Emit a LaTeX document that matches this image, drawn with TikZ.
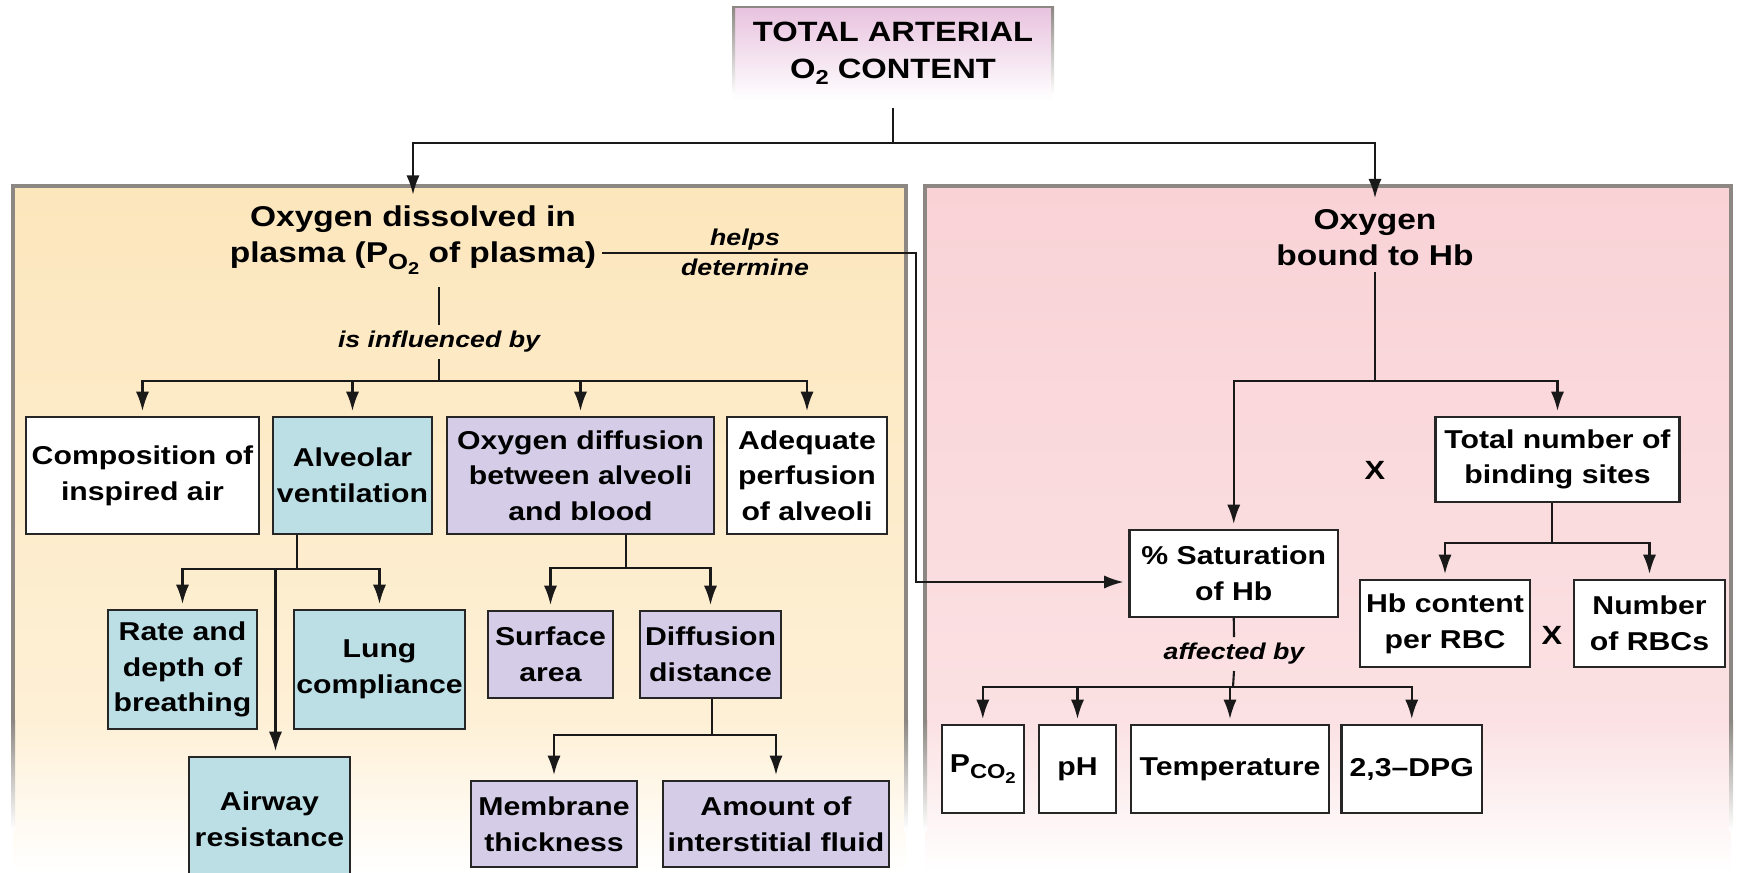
\documentclass[tikz,border=0pt]{standalone}
\usepackage{fontspec}
\setmainfont{Liberation Sans}[FakeStretch=1.17]
\usepackage{tikz}
\usetikzlibrary{arrows.meta}

\definecolor{pchtop}{HTML}{FCE6BC}
\definecolor{pchmid}{HTML}{FEF0D6}
\definecolor{pnktop}{HTML}{F9D2D6}
\definecolor{pnkmid}{HTML}{FBE1E3}
\definecolor{ttltop}{HTML}{E8C2DE}
\definecolor{edgegray}{HTML}{8C8782}
\definecolor{alvblue}{HTML}{BCDFE6}
\definecolor{difvio}{HTML}{D5CDE8}

% subscripts as the figure sets them (P with O, 2 lower still)
\newcommand{\psub}[3]{#1\raisebox{-0.45ex}{\fontsize{#3}{#3}\selectfont #2\raisebox{-0.4ex}{\fontsize{0.78\dimexpr#3pt\relax}{1pt}\selectfont 2}}}

\tikzset{
  cellbox/.style={draw=black!85, line width=1.2pt, inner sep=1pt, align=center,
    font=\fontsize{14.7}{20.3}\selectfont\bfseries},
  plainbox/.style={cellbox, fill=white},
  alvbox/.style={cellbox, fill=alvblue},
  difbox/.style={cellbox, fill=difvio},
  head/.style={align=center, font=\fontsize{16.3}{20.5}\selectfont\bfseries},
  lbl/.style={align=center, inner sep=0.12cm,
    font=\fontsize{13}{17}\selectfont\bfseries\itshape},
  conn/.style={draw=black!90, line width=1.2pt},
  arr/.style={conn, -{Latex[length=11pt,width=7.5pt]}, shorten >=0.1cm},
}

\begin{document}
\begin{tikzpicture}[x=0.02cm, y=-0.02cm]
  \useasboundingbox (0,0) rectangle (1737,872);

  % the two panels
  \shade[top color=pchtop, bottom color=pchmid] (13,186) rectangle (906,720);
  \shade[top color=pchmid, bottom color=white] (13,720) rectangle (906,872);
  \shade[top color=pnktop, bottom color=pnkmid] (925,186) rectangle (1731,720);
  \shade[top color=pnkmid, bottom color=white] (925,720) rectangle (1731,872);
  \draw[edgegray, line width=2.3pt] (11,186) -- (908,186);
  \draw[edgegray, line width=2.3pt] (923,186) -- (1733,186);
  \draw[edgegray, line width=2.3pt] (13,186) -- (13,720);
  \draw[edgegray, line width=2.3pt] (906,186) -- (906,720);
  \draw[edgegray, line width=2.3pt] (925,186) -- (925,720);
  \draw[edgegray, line width=2.3pt] (1731,186) -- (1731,720);
  \shade[top color=edgegray, bottom color=white] (11,720) rectangle (15,830);
  \shade[top color=edgegray, bottom color=white] (904,720) rectangle (908,830);
  \shade[top color=edgegray, bottom color=white] (923,720) rectangle (927,830);
  \shade[top color=edgegray, bottom color=white] (1729,720) rectangle (1733,830);

  % top box
  \node[minimum width=6.4cm, minimum height=1.86cm, top color=ttltop, bottom color=white,
    align=center, font=\fontsize{15.9}{21}\selectfont\bfseries] (title) at (893,53.5)
    {TOTAL ARTERIAL\\O\raisebox{-0.4ex}{\fontsize{11.5}{12}\selectfont 2} CONTENT};
  \draw[edgegray, line width=1.5pt] (733,7) -- (1053,7);
  \shade[top color=edgegray, bottom color=white] (732,6) rectangle (735,95);
  \shade[top color=edgegray, bottom color=white] (1051,6) rectangle (1054,95);

  % left side
  \node[head] (oxpl) at (413,240) {Oxygen dissolved in\\plasma (\psub{P}{O}{12.5} of plasma)};
  \node[lbl] (helps) at (745,252) {helps\\determine};
  \node[lbl] (infl) at (439,342) {is influenced by};

  \node[plainbox, minimum width=4.66cm, minimum height=2.34cm] (comp) at (142.5,475.5) {Composition of\\inspired air};
  \node[alvbox, minimum width=3.18cm, minimum height=2.34cm] (alv) at (352.5,475.5) {Alveolar\\ventilation};
  \node[difbox, minimum width=5.34cm, minimum height=2.34cm] (odiff) at (580.5,475.5) {Oxygen diffusion\\between alveoli\\and blood};
  \node[plainbox, minimum width=3.2cm, minimum height=2.34cm] (perf) at (807,475.5) {Adequate\\perfusion\\of alveoli};

  \node[alvbox, minimum width=2.98cm, minimum height=2.38cm] (rate) at (182.5,669.5) {Rate and\\depth of\\breathing};
  \node[alvbox, minimum width=3.42cm, minimum height=2.38cm] (lung) at (379.5,669.5) {Lung\\compliance};
  \node[alvbox, minimum width=3.22cm, minimum height=2.48cm, anchor=north] (airway) at (269.5,756) {Airway\\resistance};

  \node[difbox, minimum width=2.5cm, minimum height=1.74cm] (surf) at (550.5,654.5) {Surface\\area};
  \node[difbox, minimum width=2.82cm, minimum height=1.74cm] (ddist) at (710.5,654.5) {Diffusion\\distance};
  \node[difbox, minimum width=3.32cm, minimum height=1.72cm] (memb) at (554,824) {Membrane\\thickness};
  \node[difbox, minimum width=4.52cm, minimum height=1.72cm] (amount) at (776,824) {Amount of\\interstitial fluid};

  % right side
  \node[head] (oxhb) at (1375,237.5) {Oxygen\\bound to Hb};
  \node[plainbox, minimum width=4.88cm, minimum height=1.7cm] (total) at (1557.5,459.5) {Total number of\\binding sites};
  \node[font=\fontsize{15}{18}\selectfont\bfseries] (xa) at (1375,470) {X};
  \node[plainbox, minimum width=4.17cm, minimum height=1.74cm] (sat) at (1233.75,573.5) {\% Saturation\\of Hb};
  \node[plainbox, minimum width=3.4cm, minimum height=1.74cm] (hbcont) at (1445,623.5) {Hb content\\per RBC};
  \node[font=\fontsize{15}{18}\selectfont\bfseries] (xb) at (1552,635) {X};
  \node[plainbox, minimum width=3.02cm, minimum height=1.74cm] (nrbc) at (1649.5,623.5) {Number\\of RBCs};
  \node[lbl] (affby) at (1234,654) {affected by};

  \node[plainbox, minimum width=1.65cm, minimum height=1.76cm] (pco) at (982.8,769) {\psub{P}{CO}{11.5}};
  \node[plainbox, minimum width=1.54cm, minimum height=1.76cm] (ph) at (1077.5,769) {pH};
  \node[plainbox, minimum width=3.96cm, minimum height=1.76cm] (temp) at (1230,769) {Temperature};
  \node[plainbox, minimum width=2.81cm, minimum height=1.76cm] (dpg) at (1411.75,769) {2,3--DPG};

  % branch points
  \coordinate (tfork) at (893,143);
  \coordinate (lstem) at (439,287);
  \coordinate (lfork) at (439,381);
  \coordinate (afork) at (297,569);
  \coordinate (awy) at (275.5,569);
  \coordinate (ofork) at (626,568);
  \coordinate (dfork) at (712,735);
  \coordinate (hd1) at (916,253);
  \coordinate (hd2) at (916,582);
  \coordinate (rfork) at (1375,381);
  \coordinate (tbfork) at (1552,543);
  \coordinate (sfork) at (1233,687);

  % connectors
  \draw[conn] ([yshift=-0.16cm]title.south) -- (tfork);
  \draw[arr] (tfork) -| (oxpl.north);
  \draw[arr] (tfork) -| (oxhb.north);

  \draw[conn] (lstem) -- (infl.north);
  \draw[conn] (infl.south) -- (lfork);
  \draw[arr] (lfork) -| (comp.north);
  \draw[arr] (lfork) -| (alv.north);
  \draw[arr] (lfork) -| (odiff.north);
  \draw[arr] (lfork) -| (perf.north);

  \draw[conn] (alv.south -| afork) -- (afork);
  \draw[arr] (afork) -| (rate.north);
  \draw[arr] (afork) -| (lung.north);
  \draw[arr] (awy) -- (awy |- airway.north);

  \draw[conn] (odiff.south -| ofork) -- (ofork);
  \draw[arr] (ofork) -| (surf.north);
  \draw[arr] (ofork) -| (ddist.north);
  \draw[conn] (ddist.south -| dfork) -- (dfork);
  \draw[arr] (dfork) -| (memb.north);
  \draw[arr] (dfork) -| (amount.north);

  \draw[arr] (oxpl.east |- hd1) -- (hd1) -- (hd2) -- (sat.west |- hd2);

  \draw[conn] (oxhb.south) -- (rfork);
  \draw[arr] (rfork) -| (sat.north);
  \draw[arr] (rfork) -| (total.north);
  \draw[conn] (total.south -| tbfork) -- (tbfork);
  \draw[arr] (tbfork) -| (hbcont.north);
  \draw[arr] (tbfork) -| (nrbc.north);

  \draw[conn] (sat.south) -- (affby.north);
  \draw[conn] (affby.south) -- (sfork);
  \draw[arr] (sfork) -| (pco.north);
  \draw[arr] (sfork) -| (ph.north);
  \draw[arr] (sfork) -| (temp.north);
  \draw[arr] (sfork) -| (dpg.north);
\end{tikzpicture}
\end{document}
